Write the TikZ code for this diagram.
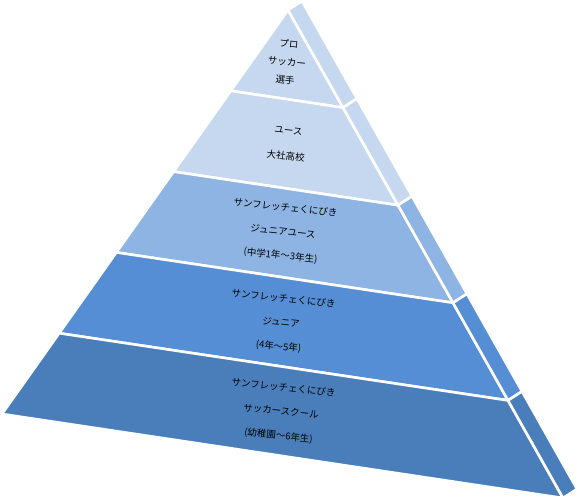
\documentclass[tikz,border=0pt]{standalone}
\usepackage{fontspec}
\newfontfamily\jpfont{Noto Sans CJK JP}
\usepackage{tikz}
\usetikzlibrary{calc}
\definecolor{tierlight}{HTML}{C6D8F0}
\definecolor{tiermid}{HTML}{8DB4E2}
\definecolor{tierdeep}{HTML}{558ED5}
\definecolor{tierdark}{HTML}{4A7EBB}
\begin{document}
\begin{tikzpicture}[
  x=1pt, y=-1pt,
  face/.style={draw=white, line width=2.6pt, line join=round},
  caption/.style={
    font=\jpfont\fontsize{9.5}{24}\selectfont,
    align=center, rotate=-6, inner sep=0pt, text=black
  }
]
\useasboundingbox (0,0) rectangle (580,501);

% Corners of the front face
\coordinate (A) at (288,10);
\coordinate (L) at (2,414);
\coordinate (R) at (563,498);

% Five tiers, front face and side strip
\foreach \k/\col in {1/tierlight,2/tierlight,3/tiermid,4/tierdeep,5/tierdark} {
  \pgfmathsetmacro\ta{(\k-1)/5}
  \pgfmathsetmacro\tb{\k/5}
  \draw[face, fill=\col] ($(A)!\ta!(L)$) -- ($(A)!\ta!(R)$)
    -- ($(A)!\tb!(R)$) -- ($(A)!\tb!(L)$) -- cycle;
  \draw[face, fill=\col] ($(A)!\ta!(R)$) -- ($(A)!\ta!(R)+(14,-9)$)
    -- ($(A)!\tb!(R)+(14,-9)$) -- ($(A)!\tb!(R)$) -- cycle;
}

% Tier captions
\node[caption, font=\jpfont\fontsize{9.5}{18}\selectfont] (pro) at (287,62)
  {プロ\\サッカー\\選手};
\node[caption, font=\jpfont\fontsize{9.5}{26}\selectfont] (youth) at (287,144)
  {ユース\\大社高校};
\node[caption] (jrYouth) at (283,232)
  {サンフレッチェくにびき\\ジュニアユース\\(中学1年～3年生)};
\node[caption] (junior) at (281,323)
  {サンフレッチェくにびき\\ジュニア\\(4年～5年)};
\node[caption] (school) at (281,412)
  {サンフレッチェくにびき\\サッカースクール\\(幼稚園～6年生)};

\end{tikzpicture}
\end{document}
